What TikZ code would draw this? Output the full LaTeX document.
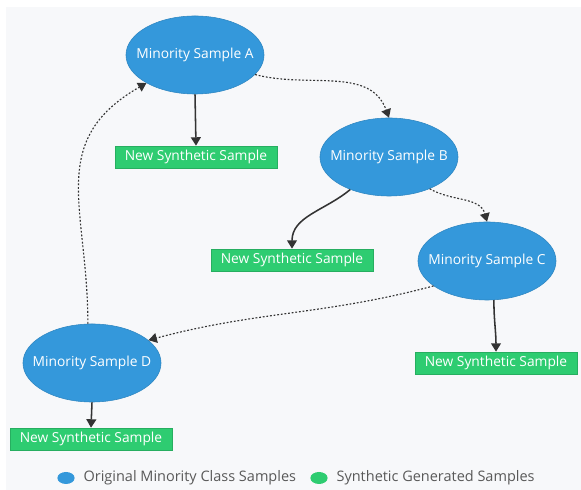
\documentclass[tikz,border=0pt]{standalone}
\usepackage{fontspec}
\setmainfont{Open Sans}
\usetikzlibrary{shapes.geometric,arrows.meta}
\definecolor{sampleblue}{HTML}{3498DB}
\definecolor{sampleedge}{HTML}{2E86C1}
\definecolor{synthgreen}{HTML}{2ECC71}
\definecolor{synthedge}{HTML}{27AE60}
\definecolor{linkgray}{HTML}{333333}
\definecolor{canvas}{HTML}{F7F8FA}
\begin{document}
\begin{tikzpicture}[x=0.025cm,y=-0.025cm,font=\fontsize{9.8}{12}\selectfont,
  sample/.style={ellipse,draw=sampleedge,fill=sampleblue,text=white,
    minimum width=3.45cm,minimum height=1.95cm,inner xsep=-0.4cm,inner ysep=0pt},
  synth/.style={rectangle,draw=synthedge,fill=synthgreen,text=white,
    minimum width=4.05cm,minimum height=0.55cm,inner sep=0pt},
  makes/.style={draw=linkgray,line width=1.1pt,-{Triangle[length=6pt,width=7pt]}},
  hops/.style={draw=linkgray,thick,dash pattern=on 1.3pt off 1.3pt,
    -{Triangle[length=6pt,width=7pt]}},
  legdot/.style={ellipse,minimum width=0.43cm,minimum height=0.3cm,inner sep=0pt},
  legtext/.style={right,text=black!65,inner xsep=6pt,font=\fontsize{10.3}{12}\selectfont}]
  \useasboundingbox (0,0) rectangle (581,490);
  \fill[canvas] (6,7) rectangle (581,490);
  \node[sample] (A) at (195,55) {Minority Sample A};
  \node[sample] (B) at (389,157) {Minority Sample B};
  \node[sample] (C) at (487,261) {Minority Sample C};
  \node[sample] (D) at (92,363) {Minority Sample D};
  \node[synth] (nA) at (196,157) {New Synthetic Sample};
  \node[synth] (nB) at (292,260) {New Synthetic Sample};
  \node[synth] (nC) at (496,363) {New Synthetic Sample};
  \node[synth] (nD) at (91,439) {New Synthetic Sample};
  \draw[makes] (A.south) -- (nA.north);
  \draw[makes] (B.-140) to[out=-140,in=90] (nB.north);
  \draw[makes] (C.-80) to[out=-90,in=90] (nC.north);
  \draw[makes] (D.south) -- (nD.north);
  \draw[hops] (A.-18) to[out=-15,in=110] (B.north);
  \draw[hops] (B.-38) to[out=-30,in=105] (C.north);
  \draw[hops] (C.-155) to[out=195,in=15] (D.22);
  \draw[hops] (D.96) to[out=90,in=210,looseness=1.2] (A.-150);
  \node[legdot,fill=sampleblue] (lo) at (66,478) {};
  \node[legtext] (lotext) at (lo.east) {Original Minority Class Samples};
  \node[legdot,fill=synthgreen] (ls) at (319,478) {};
  \node[legtext] (lstext) at (ls.east) {Synthetic Generated Samples};
\end{tikzpicture}
\end{document}
